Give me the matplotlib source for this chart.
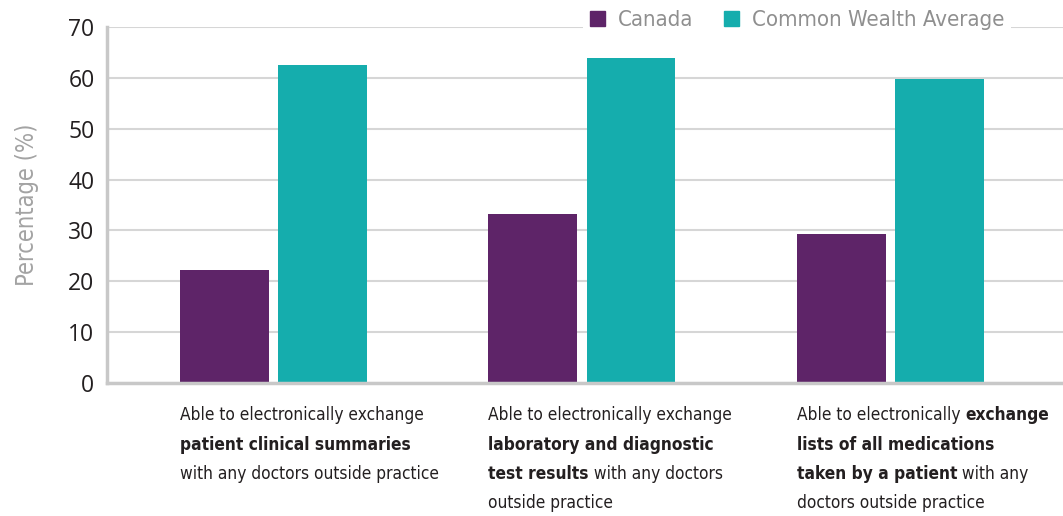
import matplotlib
matplotlib.use("Agg")
import matplotlib.pyplot as plt
from matplotlib import font_manager
from matplotlib.patches import Patch
import numpy as np

SERIES = ["Canada", "Common Wealth Average"]
CANADA = [22.2, 33.2, 29.3]
CW_AVERAGE = [62.5, 63.9, 59.7]
Y_TICKS = [0, 10, 20, 30, 40, 50, 60, 70]
CATEGORY_LINES = [
    [[("Able to electronically exchange", "normal")],
     [("patient clinical summaries", "bold")],
     [("with any doctors outside practice", "normal")]],
    [[("Able to electronically exchange", "normal")],
     [("laboratory and diagnostic", "bold")],
     [("test results", "bold"), (" with any doctors", "normal")],
     [("outside practice", "normal")]],
    [[("Able to electronically ", "normal"), ("exchange", "bold")],
     [("lists of all medications", "bold")],
     [("taken by a patient", "bold"), (" with any", "normal")],
     [("doctors outside practice", "normal")]],
]

PURPLE = "#5e2468"
TEAL = "#15adad"

# pick a narrow font if the box has one
fonts = font_manager.fontManager.ttflist
names = {f.name for f in fonts}
if "Liberation Sans Narrow" in names:
    NARROW = dict(family="Liberation Sans Narrow")
elif any(f.name == "DejaVu Sans" and "condensed" in str(f.stretch) for f in fonts):
    NARROW = dict(family="DejaVu Sans", stretch="condensed")
else:
    NARROW = dict(family="Liberation Sans")


def fit_size(fig, text, target_px, **kw):
    probe = fig.text(0, 0, text, fontsize=10, **kw)
    w = probe.get_window_extent(fig.canvas.get_renderer()).width
    probe.remove()
    return 10 * target_px / w


def draw_label(ax, x, lines, size):
    for k, line in enumerate(lines):
        prev = None
        for text, weight in line:
            if prev is None:
                prev = ax.annotate(text, xy=(x, 0), xycoords=ax.get_xaxis_transform(),
                                   xytext=(0, -41 - k * 29.5), textcoords="offset pixels",
                                   ha="left", va="bottom", fontsize=size,
                                   fontweight=weight, color="#231f20", **NARROW)
            else:
                prev = ax.annotate(text, xy=(1, 0), xycoords=prev,
                                   ha="left", va="bottom", fontsize=size,
                                   fontweight=weight, color="#231f20", **NARROW)


def plot_chart():
    fig = plt.figure(figsize=(10.63, 5.16), dpi=100)
    ax = fig.add_axes([107 / 1063, 1 - 383 / 516, 1 - 107 / 1063, 356 / 516])
    fig.canvas.draw()

    x = np.arange(len(CANADA))
    width = 0.288
    ax.bar(x - 0.159, CANADA, width, color=PURPLE, label=SERIES[0], zorder=3)
    ax.bar(x + 0.159, CW_AVERAGE, width, color=TEAL, label=SERIES[1], zorder=3)

    ax.set_xlim(-0.54, 2.56)
    ax.set_ylim(0, 70)
    ax.set_yticks(Y_TICKS)
    ax.set_xticks([])
    ax.tick_params(axis="y", length=0, pad=9, labelsize=16.5, labelcolor="#231f20")
    for lab in ax.get_yticklabels():
        lab.set_family("Open Sans")

    ax.grid(axis="y", color="#d6d6d6", linewidth=1.5, zorder=0)
    for side in ("top", "right"):
        ax.spines[side].set_visible(False)
    for side in ("left", "bottom"):
        ax.spines[side].set_color("#c8c8c8")
        ax.spines[side].set_linewidth(2.5)
        ax.spines[side].set_zorder(4)

    ax.set_ylabel("Percentage (%)", fontsize=17, color="#a3a3a3", labelpad=21, **NARROW)

    label_size = min(16, fit_size(fig, "Able to electronically exchange", 245, **NARROW))
    for i, lines in enumerate(CATEGORY_LINES):
        draw_label(ax, x[i] - 0.159 - width / 2, lines, label_size)

    leg_size = min(19, fit_size(fig, "Common Wealth Average", 253, **NARROW))
    handles = [Patch(color=PURPLE), Patch(color=TEAL)]
    leg = fig.legend(handles, SERIES, loc="center left", bbox_to_anchor=(583 / 1063, 1 - 20 / 516),
                     ncol=2, frameon=True, fancybox=False, edgecolor="none", facecolor="white",
                     framealpha=1, handlelength=0.68, handleheight=0.68, handletextpad=0.62,
                     columnspacing=1.35, borderpad=0.3, borderaxespad=0,
                     prop=dict(size=leg_size, **NARROW))
    for t in leg.get_texts():
        t.set_color("#8f8f8f")

    fig.savefig("out.png", dpi=100)


if __name__ == "__main__":
    plot_chart()
